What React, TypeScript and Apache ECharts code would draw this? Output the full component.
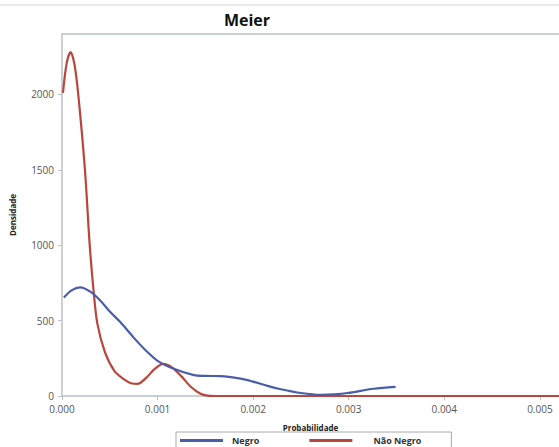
import React, { useEffect, useRef } from "react";
import * as echarts from "echarts";

const chartTitle = "Meier";
const xName = "Probabilidade";
const yName = "Densidade";
const seriesNames = ["Negro", "Não Negro"];
const xTicks = [0, 0.001, 0.002, 0.003, 0.004, 0.005];
const yTicks = [0, 500, 1000, 1500, 2000];

const negro: [number, number][] = [
  [0.00002, 653], [0.0001, 700], [0.00019, 720], [0.0003, 690], [0.0004, 633],
  [0.0005, 560], [0.00061, 490], [0.00075, 387], [0.00088, 300], [0.001, 233],
  [0.00117, 180], [0.00138, 138], [0.0015, 133], [0.00166, 132], [0.00187, 115],
  [0.002, 95], [0.00215, 67], [0.00229, 45], [0.0025, 20], [0.00271, 8],
  [0.00285, 11], [0.00299, 20], [0.00326, 48], [0.00349, 60],
];

const naoNegro: [number, number][] = [
  [0.00001, 2010], [0.00005, 2210], [0.00009, 2280], [0.00013, 2200], [0.00017, 2000],
  [0.00024, 1500], [0.00029, 1000], [0.00033, 700], [0.00037, 480], [0.00045, 290],
  [0.00055, 165], [0.00065, 110], [0.00072, 85], [0.00079, 80], [0.00088, 120],
  [0.00097, 180], [0.00106, 213], [0.00115, 190], [0.00125, 130], [0.00135, 60],
  [0.00145, 15], [0.00152, 2], [0.0016, 0], [0.0052, 0],
];

const axisColor = "#b9c0c7";
const labelColor = "#555";

export default function App() {
  const ref = useRef<HTMLDivElement>(null);
  useEffect(() => {
    if (!ref.current) return;
    const chart = echarts.init(ref.current, null, { renderer: "svg" });
    chart.setOption({
      animation: false,
      backgroundColor: "#fff",
      title: {
        text: chartTitle,
        left: 242,
        textAlign: "center",
        top: 7,
        textStyle: { fontFamily: "Open Sans", fontWeight: "bold", fontSize: 16, color: "#111" },
      },
      graphic: [
        { type: "line", shape: { x1: 0, y1: 5, x2: 559, y2: 5 }, style: { stroke: "#e2e4e6", lineWidth: 1.5 } },
      ],
      grid: { left: 61, right: 0, top: 34, bottom: 51 },
      legend: {
        data: seriesNames,
        left: 176,
        top: 432,
        orient: "horizontal",
        padding: [4, 30, 4, 4],
        borderColor: "#aaa",
        borderWidth: 1,
        itemWidth: 43,
        itemHeight: 3,
        itemGap: 50,
        icon: "rect",
        formatter: (name: string) => (name === seriesNames[1] ? `{b|${name}}` : `{a|${name}}`),
        textStyle: {
          fontFamily: "Open Sans",
          fontSize: 9,
          fontWeight: "bold",
          color: "#333",
          rich: {
            a: { fontFamily: "Open Sans", fontSize: 9, fontWeight: "bold", color: "#333", padding: [0, 0, 0, 4] },
            b: { fontFamily: "Open Sans", fontSize: 9, fontWeight: "bold", color: "#333", padding: [0, 0, 0, 16] },
          },
        },
      },
      xAxis: [
        {
          type: "value",
          min: 0,
          max: 0.0052,
          name: xName,
          nameLocation: "middle",
          nameGap: 27,
          nameTextStyle: { fontFamily: "Open Sans", fontWeight: "bold", fontSize: 8, color: "#222" },
          axisLine: { show: true, lineStyle: { color: axisColor, width: 1.5 } },
          axisTick: { show: true, length: 4, lineStyle: { color: axisColor }, customValues: xTicks },
          axisLabel: {
            customValues: xTicks,
            formatter: (v: number) => v.toFixed(3),
            color: labelColor,
            fontFamily: "Open Sans",
            fontSize: 10,
            margin: 8,
          },
          splitLine: { show: false },
        },
        {
          type: "value",
          position: "top",
          min: 0,
          max: 0.0052,
          axisLine: { show: true, lineStyle: { color: axisColor, width: 1.5 } },
          axisTick: { show: false },
          axisLabel: { show: false },
          splitLine: { show: false },
        },
      ],
      yAxis: {
        type: "value",
        min: 0,
        max: 2400,
        name: yName,
        nameLocation: "middle",
        nameGap: 46,
        nameTextStyle: { fontFamily: "Open Sans", fontWeight: "bold", fontSize: 8, color: "#222" },
        axisLine: { show: true, lineStyle: { color: axisColor, width: 1.5 } },
        axisTick: { show: true, length: 4, lineStyle: { color: axisColor }, customValues: yTicks },
        axisLabel: {
          customValues: yTicks,
          formatter: (v: number) => String(v),
          color: labelColor,
          fontFamily: "Open Sans",
          fontSize: 10,
          margin: 8,
        },
        splitLine: { show: false },
      },
      series: [
        {
          name: seriesNames[0],
          type: "line",
          data: negro,
          smooth: 0.3,
          showSymbol: false,
          lineStyle: { color: "#4a5da8", width: 2.2 },
          itemStyle: { color: "#4a5da8" },
          z: 3,
        },
        {
          name: seriesNames[1],
          type: "line",
          data: naoNegro,
          smooth: 0.3,
          showSymbol: false,
          lineStyle: { color: "#b8463d", width: 2.2 },
          itemStyle: { color: "#b8463d" },
          z: 2,
        },
      ],
    });
    return () => chart.dispose();
  }, []);
  return <div ref={ref} style={{ width: 559, height: 447, position: "absolute", left: 0, top: 0 }} />;
}
